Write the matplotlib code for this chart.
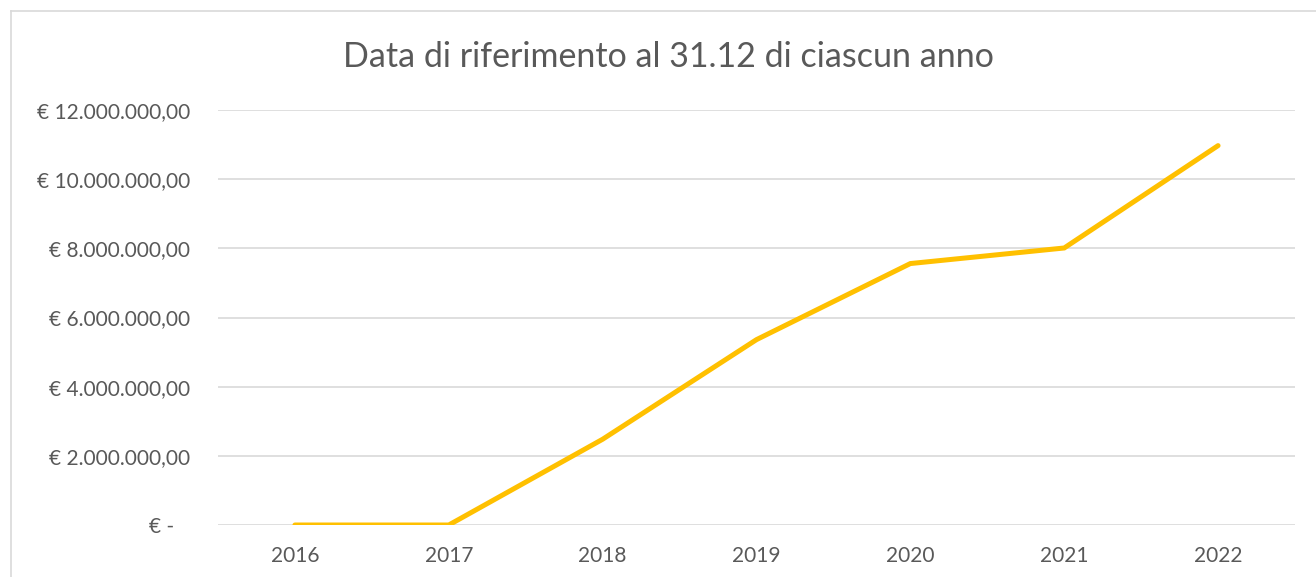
import matplotlib
matplotlib.use("Agg")
import matplotlib.pyplot as plt
from matplotlib.lines import Line2D
from matplotlib.ticker import FuncFormatter

years = ["2016", "2017", "2018", "2019", "2020", "2021", "2022"]
values = [0, 0, 2480000, 5360000, 7560000, 8010000, 10970000]
yticks = [0, 2000000, 4000000, 6000000, 8000000, 10000000, 12000000]
subtitle = "Data di riferimento al 31.12 di ciascun anno"

plt.rcParams['font.family'] = ['Lato', 'DejaVu Sans']

W, H = 1316, 577
fig = plt.figure(figsize=(W / 100, H / 100), dpi=100)
fig.patch.set_facecolor("white")

# chart area border
border = "#d9d9d9"
fig.add_artist(Line2D([11 / W, 11 / W], [0, 1 - 11 / H], transform=fig.transFigure, color=border, lw=1.2))
fig.add_artist(Line2D([11 / W, 1], [1 - 11 / H, 1 - 11 / H], transform=fig.transFigure, color=border, lw=1.2))

ax = fig.add_axes([218 / W, (H - 525) / H, 1077 / W, 415 / H])
x = list(range(len(years)))
ax.plot(x, values, color="#FFC000", lw=3.6, solid_capstyle="round", solid_joinstyle="miter", zorder=3)

ax.set_xlim(-0.5, len(years) - 0.5)
ax.set_ylim(0, 12000000)
ax.set_yticks(yticks)
ax.set_xticks(x)
ax.set_xticklabels(years)


def fmt(v, pos):
    if v == 0:
        return "€ -   "
    s = f"{v:,.2f}".replace(",", "X").replace(".", ",").replace("X", ".")
    return "€ " + s


ax.yaxis.set_major_formatter(FuncFormatter(fmt))
ax.grid(axis="y", color="#d9d9d9", lw=1.2)
ax.set_axisbelow(True)
for s in ax.spines.values():
    s.set_visible(False)
ax.tick_params(axis="both", length=0, colors="#595959", labelsize=15)
ax.tick_params(axis="y", pad=20)
ax.tick_params(axis="x", pad=15)

fig.text(668 / W, 1 - 57 / H, subtitle, ha="center", va="center", fontsize=24.5, color="#595959")

fig.savefig("out.png", dpi=100)
